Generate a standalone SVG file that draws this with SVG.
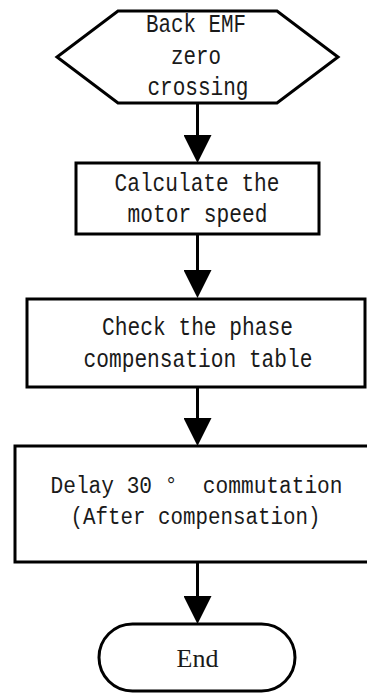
<svg xmlns="http://www.w3.org/2000/svg" width="367" height="693" viewBox="0 0 367 693">
  <style>
    .shape { fill: #ffffff; stroke: #000000; stroke-width: 3; }
    .lbl { font-family: "Liberation Mono", "DejaVu Sans Mono", monospace; font-size: 26px; fill: #1a1a1a; text-anchor: middle; }
    .lbl.sm { font-size: 23px; }
    .conn { stroke: #000000; stroke-width: 3; fill: none; marker-end: url(#arrow); }
  </style>
  <defs>
    <marker id="arrow" markerUnits="userSpaceOnUse" markerWidth="28" markerHeight="28" viewBox="0 0 28 28" refX="18" refY="14" orient="auto">
      <path d="M0,0 L28,14 L0,28 Z" fill="#000000"/>
    </marker>
  </defs>

  <g id="connectors">
    <line class="conn" x1="197.5" y1="103" x2="197.5" y2="153"/>
    <line class="conn" x1="197.5" y1="234" x2="197.5" y2="288"/>
    <line class="conn" x1="197.5" y1="387" x2="197.5" y2="436"/>
    <line class="conn" x1="197.5" y1="562" x2="197.5" y2="614"/>
  </g>

  <g id="start">
    <polygon class="shape" points="118,11 277,11 338,57 277,103 118,103 57,57"/>
    <text class="lbl" x="196" y="32" textLength="100" lengthAdjust="spacingAndGlyphs">Back EMF</text>
    <text class="lbl" x="196" y="64" textLength="50" lengthAdjust="spacingAndGlyphs">zero</text>
    <text class="lbl" x="198" y="95" textLength="101" lengthAdjust="spacingAndGlyphs">crossing</text>
  </g>

  <g id="calc-speed">
    <rect class="shape" x="76" y="163" width="243" height="71"/>
    <text class="lbl" x="197" y="191" textLength="165" lengthAdjust="spacingAndGlyphs">Calculate the</text>
    <text class="lbl" x="197.5" y="222" textLength="140" lengthAdjust="spacingAndGlyphs">motor speed</text>
  </g>

  <g id="check-table">
    <rect class="shape" x="27" y="299" width="338" height="88"/>
    <text class="lbl" x="197.5" y="335" textLength="191" lengthAdjust="spacingAndGlyphs">Check the phase</text>
    <text class="lbl" x="198" y="367" textLength="229" lengthAdjust="spacingAndGlyphs">compensation table</text>
  </g>

  <g id="delay-commutation">
    <path class="shape" d="M367,446 H15 V562 H367"/>
    <text class="lbl sm" x="196.5" y="493" textLength="292" lengthAdjust="spacingAndGlyphs" style="white-space:pre">Delay 30 °  commutation</text>
    <text class="lbl sm" x="195.5" y="524" textLength="250" lengthAdjust="spacingAndGlyphs">(After compensation)</text>
  </g>

  <g id="end">
    <rect class="shape" x="99" y="624" width="196" height="67" rx="33.5" ry="33.5"/>
    <text x="197.5" y="667" style="font-family:'Liberation Serif','DejaVu Serif',serif;font-size:26px;fill:#1a1a1a;text-anchor:middle">End</text>
  </g>
</svg>
